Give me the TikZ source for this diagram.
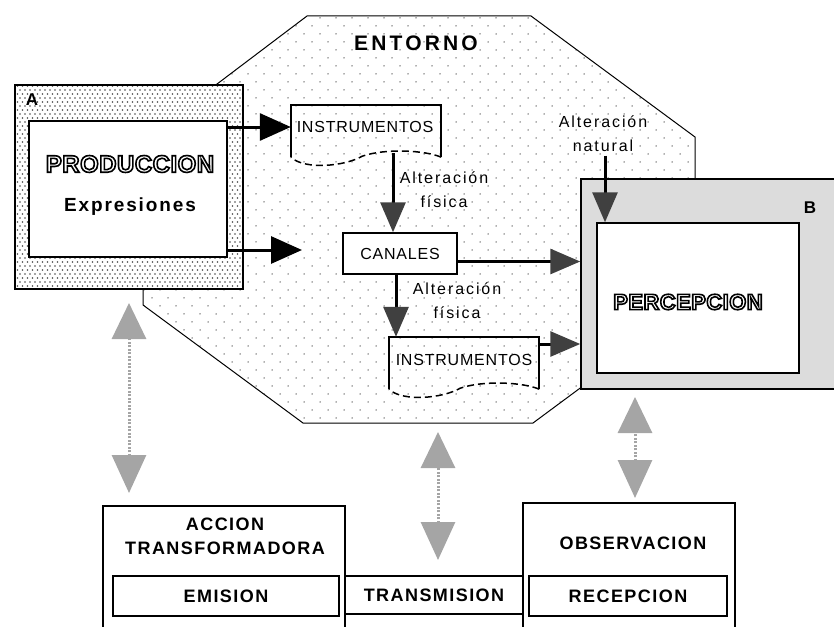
\documentclass[tikz,border=0pt]{standalone}
\usepackage{fontspec}
\setmainfont{Liberation Sans}
\newfontfamily\lblfont[LetterSpace=8]{Liberation Sans}
\newfontfamily\thinfont[LetterSpace=5]{Liberation Sans}
\usetikzlibrary{arrows.meta,patterns}

\definecolor{boxgray}{RGB}{220,220,220}
\definecolor{headgray}{RGB}{64,64,64}
\definecolor{linkgray}{RGB}{165,165,165}

\pgfdeclarepatternformonly{sparsedots}{\pgfqpoint{-1pt}{-1pt}}{\pgfqpoint{17pt}{17pt}}{\pgfqpoint{16pt}{16pt}}{%
  \pgfpathcircle{\pgfqpoint{0pt}{0pt}}{0.75pt}%
  \pgfpathcircle{\pgfqpoint{8pt}{8pt}}{0.75pt}%
  \pgfusepath{fill}}
\pgfdeclarepatternformonly{densedots}{\pgfqpoint{-1pt}{-1pt}}{\pgfqpoint{6pt}{9pt}}{\pgfqpoint{5pt}{8pt}}{%
  \pgfpathcircle{\pgfqpoint{0pt}{0pt}}{0.8pt}%
  \pgfpathcircle{\pgfqpoint{2.5pt}{4pt}}{0.8pt}%
  \pgfusepath{fill}}

% hollow letters: white fill, black stroke
\newcommand\hollow[1]{\textcolor{white}{\special{pdf:literal direct 2 Tr 1.6 w 0 G}#1\special{pdf:literal direct 0 Tr}}}

\tikzset{
  plainbox/.style={draw, line width=1.5pt, fill=white, inner sep=0pt},
  blackarr/.style={line width=3pt, -{Triangle[length=31pt,width=27pt]}},
  grayarr/.style={line width=3pt, -{Triangle[length=30pt,width=25pt,color=headgray]}},
  linkarr/.style={linkgray, line width=3pt, dash pattern=on 2pt off 1.5pt,
    {Triangle[length=38pt,width=34pt,color=linkgray]}-{Triangle[length=36pt,width=34pt,color=linkgray]}},
  bold label/.style={font=\lblfont\bfseries\fontsize{18}{24}\selectfont, align=center},
  thin label/.style={font=\thinfont\fontsize{16}{24}\selectfont, align=center},
  alt label/.style={font=\thinfont\addfontfeatures{LetterSpace=12}\fontsize{16}{24}\selectfont, align=center},
  outline label/.style={font=\lblfont\bfseries\addfontfeatures{LetterSpace=2}\fontsize{#1}{26}\selectfont},
  corner label/.style={font=\bfseries\fontsize{17}{18}\selectfont, inner sep=0pt},
}

% document box with a wavy dashed bottom
\newcommand\docbox[1]{%
  \draw[line width=1.5pt] (#1.south west) -- (#1.north west) -- (#1.north east) -- (#1.south east);
  \draw[line width=1.5pt, dash pattern=on 7pt off 4pt] (#1.south east) .. controls +(-16,-7) and +(23,-8) .. ([xshift=-79pt,yshift=1pt]#1.south east)
    .. controls +(-17,10) and +(14,13) .. (#1.south west);}

\begin{document}
\begin{tikzpicture}[x=1pt,y=-1pt]
\useasboundingbox (0,0) rectangle (834,626);
\clip (0,0) rectangle (834,626);

% entorno
\draw[line width=1pt, pattern=sparsedots, pattern color=gray!75!black] (307,16) -- (531,16) -- (695,137) -- (695,303)
  -- (533,423) -- (303,423) -- (143,305) -- (143,140) -- cycle;
\node[font=\lblfont\bfseries\addfontfeatures{LetterSpace=15}\fontsize{21}{24}\selectfont] (entorno) at (416,43) {ENTORNO};

% A
\node[draw, line width=1.5pt, preaction={fill=white}, pattern=densedots, pattern color=gray!60!black,
  minimum width=228pt, minimum height=204pt] (A) at (129,187) {};
\node[corner label] (alab) at (32,100) {A};
\node[plainbox, minimum width=198pt, minimum height=136pt] (prod) at (128,189) {};
\node[outline label=24] (prodtxt) at (130,164) {\hollow{PRODUCCION}};
\node[bold label, font=\lblfont\bfseries\addfontfeatures{LetterSpace=10}\fontsize{19}{24}\selectfont] (expr) at (130,207) {Expresiones};

% B
\node[draw, line width=1.5pt, fill=boxgray, minimum width=269pt, minimum height=210pt] (B) at (715.5,284) {};
\node[corner label] (blab) at (810,208) {B};
\node[plainbox, minimum width=202pt, minimum height=150pt] (perc) at (698,298) {};
\node[outline label=22] (perctxt) at (688,302) {\hollow{PERCEPCION}};

% medios
\node[inner sep=0pt, minimum width=150pt, minimum height=52pt] (ins1) at (366,131) {};
\docbox{ins1}
\node[thin label] (ins1txt) at (365,127) {INSTRUMENTOS};
\node[plainbox, thin label, minimum width=114pt, minimum height=41pt] (canales) at (400,253.5) {CANALES};
\node[inner sep=0pt, minimum width=150pt, minimum height=52pt] (ins2) at (464,363) {};
\docbox{ins2}
\node[thin label] (ins2txt) at (464,360) {INSTRUMENTOS};

\node[alt label] (alt1) at (444,190) {Alteración\\física};
\node[alt label] (alt2) at (457,301) {Alteración\\física};
\node[alt label] (alt3) at (603,134) {Alteración\\natural};

\coordinate (inlet) at (302,250);
\draw[blackarr] (prod.east |- ins1txt) -- (ins1.west |- ins1txt);
\draw[blackarr] (prod.east |- inlet) -- (inlet);
\draw[grayarr] ([xshift=27pt,yshift=4pt]ins1.south) -- ([xshift=27pt]ins1.south |- canales.north);
\draw[grayarr] ([yshift=-8pt]canales.east) -- ([yshift=-8pt]canales.east -| B.west);
\draw[grayarr] ([xshift=-4pt]canales.south) -- ([xshift=-4pt]canales.south |- ins2.north);
\draw[grayarr] ([yshift=19pt]ins2.east) -- ([yshift=19pt]ins2.east -| B.west);
\draw[grayarr] ([xshift=2pt]alt3.south) -- ([xshift=2pt]alt3.south |- perc.north);

% acciones
\node[plainbox, minimum width=242pt, minimum height=134pt] (accion) at (224,573) {};
\node[bold label] (acciontxt) at (225,536) {ACCION\\TRANSFORMADORA};
\node[plainbox, bold label, minimum width=226pt, minimum height=40pt] (emision) at (226,596) {EMISION};
\node[plainbox, minimum width=212pt, minimum height=137pt] (obs) at (629,571.5) {};
\node[bold label] (obstxt) at (633,543) {OBSERVACION};
\node[plainbox, bold label, minimum width=198pt, minimum height=40pt] (recep) at (628,596) {RECEPCION};
\node[plainbox, bold label, minimum width=178pt, minimum height=38pt] (trans) at (434,595) {TRANSMISION};

\coordinate (l1a) at (129,303);
\coordinate (l1b) at (129,493);
\coordinate (l2a) at (438,432);
\coordinate (l2b) at (438,560);
\coordinate (l3a) at (635,397);
\coordinate (l3b) at (635,498);
\draw[linkarr] (l1b) -- (l1a);
\draw[linkarr] (l2b) -- (l2a);
\draw[linkarr] (l3b) -- (l3a);
\end{tikzpicture}
\end{document}
